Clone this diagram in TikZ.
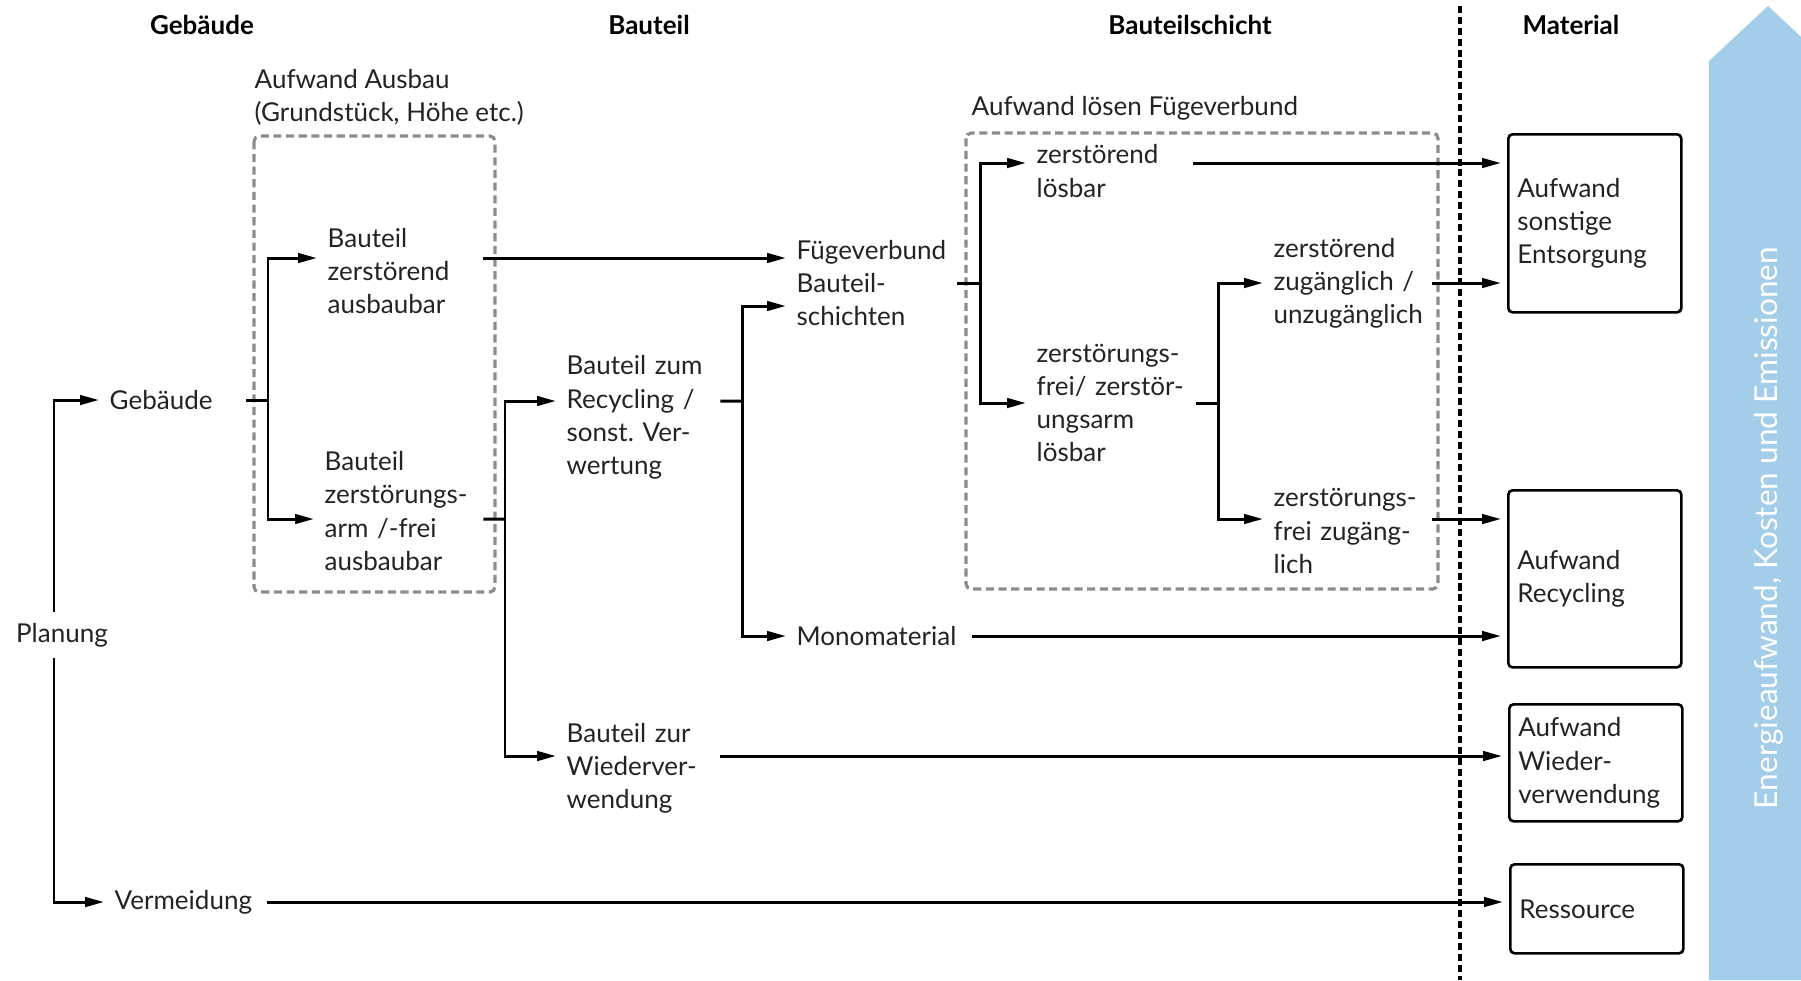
\documentclass[tikz,border=0pt]{standalone}
\usepackage{fontspec}
\setmainfont{Lato}
\usetikzlibrary{arrows.meta}
\definecolor{energyblue}{RGB}{163,205,233}
\definecolor{zonegray}{RGB}{140,140,140}
\definecolor{inkgray}{RGB}{35,35,35}
\newcommand{\diagfont}{\fontsize{7.4}{9.45}\selectfont}
\frenchspacing

\begin{document}
\begin{tikzpicture}[
  item/.style={anchor=west, align=left, inner sep=0pt, font=\diagfont, text=inkgray},
  head/.style={font=\diagfont\bfseries, text=black},
  zone/.style={draw=zonegray, line width=0.9pt, dash pattern=on 2.3pt off 1.3pt, rounded corners=1.5pt},
  matbox/.style={draw, line width=0.75pt, rounded corners=1.2pt, anchor=north west,
    align=left, font=\diagfont, text=inkgray, text width=1.55cm, inner xsep=0.9mm},
  link/.style={line width=0.85pt},
  arrow/.style={link, -{Triangle[length=1.9mm, width=0.95mm]}, shorten >=1mm},
  tobox/.style={arrow, shorten >=0.6mm},
  divider/.style={line width=1.1pt, dash pattern=on 2pt off 1.1pt}
]
\useasboundingbox (0,0) rectangle (18.01,-9.80);

% energy axis
\fill[energyblue] (17.09,-9.80) -- (17.09,-0.61) -- (17.68,-0.06) -- (18.27,-0.61) -- (18.27,-9.80) -- cycle;
\node[rotate=90, text=white, font=\fontsize{9}{11}\selectfont] (effort) at (17.69,-5.28) {Energieaufwand, Kosten und Emissionen};

\node[head] (hgeb) at (2.02,-0.25) {Gebäude};
\node[head] (hbau) at (6.49,-0.25) {Bauteil};
\node[head] (hsch) at (11.90,-0.25) {Bauteilschicht};
\node[head] (hmat) at (15.71,-0.25) {Material};

\draw[zone] (2.54,-1.36) rectangle (4.95,-5.92);
\node[item] (zonea) at (2.54,-0.97) {Aufwand Ausbau\\(Grundstück, Höhe etc.)};
\draw[zone] (9.66,-1.33) rectangle (14.38,-5.89);
\node[item] (zoneb) at (9.71,-1.08) {Aufwand lösen Fügeverbund};

\draw[divider] (14.60,-0.06) -- (14.60,-9.80);

\node[item, anchor=center, inner ysep=1mm] (plan) at (0.62,-6.35) {Planung};
\node[item, text width=1.36cm] (geb) at (1.09,-4.00) {Gebäude};
\node[item, text width=1.52cm] (verm) at (1.14,-9.02) {Vermeidung};
\draw[arrow] ([xshift=-0.8mm]plan.north) |- (geb.west);
\draw[arrow] ([xshift=-0.8mm]plan.south) |- (verm.west);

\node[item, text width=1.55cm] (bza) at (3.27,-2.71) {Bauteil\\zerstörend\\ausbaubar};
\node[item, text width=1.58cm] (bzaf) at (3.24,-5.11) {Bauteil\\zerstörungs-\\arm /-frei\\ausbaubar};
\coordinate (b1) at (2.68,-4.00);
\draw[link] (geb.east) -- (b1);
\draw[arrow] (b1) |- ([yshift=1.3mm]bza.west);
\draw[arrow] (b1) |- ([yshift=-0.8mm]bzaf.west);

\node[item, text width=1.53cm] (bzr) at (5.66,-4.175) {Bauteil zum\\Recycling /\\sonst. Ver-\\wertung};
\node[item, text width=1.53cm] (bzw) at (5.66,-7.68) {Bauteil zur\\Wiederver-\\wendung};
\coordinate (b2) at (5.05,-5.19);
\draw[link] ([yshift=-0.8mm]bzaf.east) -- (b2);
\draw[arrow] (b2) |- ([yshift=1.65mm]bzr.west);
\draw[arrow] (b2) |- ([yshift=1.2mm]bzw.west);

\node[item, text width=1.60cm] (fug) at (7.96,-2.83) {Fügeverbund\\Bauteil-\\schichten};
\node[item, text width=1.75cm] (mono) at (7.96,-6.36) {Monomaterial};
\draw[arrow] ([yshift=1.3mm]bza.east) -- ([yshift=1.3mm]bza.east -| fug.west);
\coordinate (b3) at (7.42,-4.01);
\draw[link] ([yshift=1.65mm]bzr.east) -- (b3);
\draw[arrow] (b3) |- ([yshift=-2.3mm]fug.west);
\draw[arrow] (b3) |- (mono.west);

\node[item, text width=1.56cm] (zl) at (10.36,-1.71) {zerstörend\\lösbar};
\node[item, text width=1.59cm] (zfl) at (10.36,-4.03) {zerstörungs-\\frei/ zerstör-\\ungsarm\\lösbar};
\coordinate (b4) at (9.80,-2.83);
\draw[link] (fug.east) -- (b4);
\draw[arrow] (b4) |- ([yshift=0.8mm]zl.west);
\draw[arrow] (b4) |- (zfl.west);

\node[item, text width=1.58cm] (zzu) at (12.73,-2.83) {zerstörend\\zugänglich /\\unzugänglich};
\node[item, text width=1.58cm] (zfz) at (12.73,-5.31) {zerstörungs-\\frei zugäng-\\lich};
\coordinate (b5) at (12.18,-4.03);
\draw[link] (zfl.east) -- (b5);
\draw[arrow] (b5) |- (zzu.west);
\draw[arrow] (b5) |- ([yshift=1.2mm]zfz.west);

\node[matbox, minimum height=1.78cm] (boxa) at (15.07,-1.33) {Aufwand\\sonstige\\Entsorgung};
\node[matbox, minimum height=1.77cm] (boxb) at (15.07,-4.89) {Aufwand\\Recycling};
\node[matbox, minimum height=1.17cm] (boxc) at (15.08,-7.03) {Aufwand\\Wieder-\\verwendung};
\node[matbox, minimum height=0.89cm] (boxd) at (15.09,-8.63) {Ressource};

\draw[tobox] ([yshift=0.8mm]zl.east) -- ([yshift=0.8mm]zl.east -| boxa.west);
\draw[tobox] (zzu.east) -- (zzu.east -| boxa.west);
\draw[tobox] ([yshift=1.2mm]zfz.east) -- ([yshift=1.2mm]zfz.east -| boxb.west);
\draw[tobox] (mono.east) -- (mono.east -| boxb.west);
\draw[tobox] ([yshift=1.2mm]bzw.east) -- ([yshift=1.2mm]bzw.east -| boxc.west);
\draw[tobox] (verm.east) -- (verm.east -| boxd.west);
\end{tikzpicture}
\end{document}
